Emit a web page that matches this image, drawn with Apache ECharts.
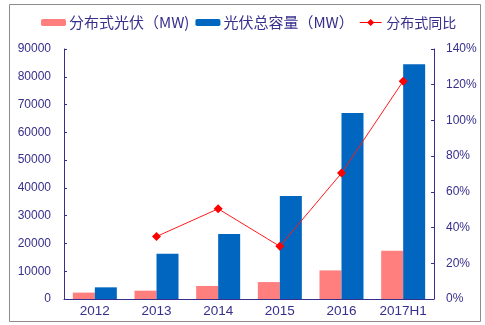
<!DOCTYPE html>
<html><head><meta charset="utf-8">
<script src="https://cdn.jsdelivr.net/npm/echarts@6/dist/echarts.min.js"></script>
<style>html,body{margin:0;padding:0;background:#fff}#c{width:485px;height:325px}</style>
</head><body><div id="c"></div>
<script>
const categories = ['2012','2013','2014','2015','2016','2017H1'];
const distributed = [2300, 3000, 4700, 6100, 10300, 17400];
const totalCapacity = [4200, 16300, 23400, 37100, 67000, 84500];
const distributedYoY = [null, 35, 50.5, 29.5, 70.5, 122];
const leftTicks = [0, 90000, 10000];
const rightTicks = [0, 140, 20];

const axisColor = '#372f8c';
const font = '"Liberation Sans", Arial, "Noto Sans CJK SC", sans-serif';
const chart = echarts.init(document.getElementById('c'));
chart.setOption({
  animation: false,
  textStyle: {fontFamily: font},
  graphic: [{type: 'rect', shape: {x: 9.5, y: 4.5, width: 471, height: 317}, style: {fill: 'none', stroke: '#8c8c8c', lineWidth: 1}}],
  legend: {
    left: 36, top: 10, itemWidth: 25, itemHeight: 7, itemGap: 6,
    textStyle: {color: axisColor, fontSize: 15, fontFamily: '"Noto Sans CJK SC", sans-serif', padding: [0,0,0,-2]},
    data: ['分布式光伏（MW)', '光伏总容量（MW）', {name: '分布式同比', icon: 'path://M0,3.4 L9,3.4 L12.5,0 L16,3.4 L25,3.4 L25,4.6 L16,4.6 L12.5,8 L9,4.6 L0,4.6 Z', itemStyle: {color: '#ff0000'}, textStyle: {fontSize: 14}}]
  },
  grid: {left: 64, right: 51, top: 49, bottom: 26, containLabel: false},
  xAxis: {
    type: 'category', data: categories,
    axisLine: {lineStyle: {color: axisColor, width: 1}},
    axisTick: {show: false},
    axisLabel: {color: axisColor, fontSize: 13.5, margin: 6}
  },
  yAxis: [{
    type: 'value', min: leftTicks[0], max: leftTicks[1], interval: leftTicks[2],
    axisLine: {show: true, lineStyle: {color: axisColor}},
    axisTick: {show: true, inside: true, length: 3},
    splitLine: {show: false},
    axisLabel: {color: axisColor, fontSize: 12, margin: 13, formatter: v => String(v)}
  }, {
    type: 'value', min: rightTicks[0], max: rightTicks[1], interval: rightTicks[2],
    axisLine: {show: true, lineStyle: {color: axisColor}},
    axisTick: {show: true, inside: true, length: 3},
    splitLine: {show: false},
    axisLabel: {color: axisColor, fontSize: 12, margin: 12, formatter: '{value}%'}
  }],
  series: [{
    name: '分布式光伏（MW)', type: 'bar', data: distributed, barWidth: 22, barGap: '0%',
    itemStyle: {color: '#ff7f7f'}
  }, {
    name: '光伏总容量（MW）', type: 'bar', data: totalCapacity, barWidth: 22,
    itemStyle: {color: '#0066bf'}
  }, {
    name: '分布式同比', type: 'line', yAxisIndex: 1, data: distributedYoY,
    symbol: 'diamond', symbolSize: 9, connectNulls: false,
    lineStyle: {color: '#ff1a1a', width: 1},
    itemStyle: {color: '#ff0000'}
  }]
});
</script></body></html>
